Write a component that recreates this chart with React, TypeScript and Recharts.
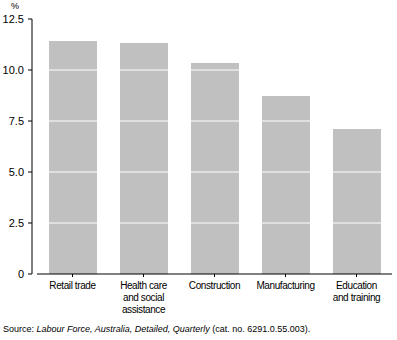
import { BarChart, Bar, XAxis, YAxis, ReferenceLine } from "recharts";

// share of employed persons by industry, %
const industries = [
  "Retail trade",
  "Health care and social assistance",
  "Construction",
  "Manufacturing",
  "Education and training",
];
const shares = [11.42, 11.32, 10.34, 8.73, 7.11];
const yTicks = [0, 2.5, 5, 7.5, 10, 12.5];

const data = industries.map((name, i) => ({ name, value: shares[i] }));

const FONT = "'Liberation Sans', Arial, sans-serif";

// greedy word wrap so long industry names go over a few lines
function wrap(label: string, max = 12) {
  const lines: string[] = [];
  let cur = "";
  for (const w of label.split(" ")) {
    if (cur && (cur + " " + w).length > max) {
      lines.push(cur);
      cur = w;
    } else {
      cur = cur ? cur + " " + w : w;
    }
  }
  if (cur) lines.push(cur);
  return lines;
}

function CategoryTick({ x, y, payload }: any) {
  const lines = wrap(payload.value);
  return (
    <text x={x} y={y} textAnchor="middle" fontFamily={FONT} fontSize={10} letterSpacing={-0.4} fill="#000">
      {lines.map((l, i) => (
        <tspan key={i} x={x} dy={i === 0 ? 10 : 12}>
          {l}
        </tspan>
      ))}
    </text>
  );
}

export default function App() {
  return (
    <div style={{ position: "absolute", left: 0, top: 0, width: 397, height: 340, background: "#fff" }}>
      <BarChart
        width={397}
        height={340}
        data={data}
        margin={{ top: 19, right: 5, bottom: 26, left: 0 }}
      >
        <XAxis
          dataKey="name"
          interval={0}
          height={40}
          axisLine={{ stroke: "#000" }}
          tickLine={{ stroke: "#000" }}
          tickSize={3}
          tick={<CategoryTick />}
        />
        <YAxis
          width={37}
          domain={[0, 12.5]}
          ticks={yTicks}
          interval={0}
          tickFormatter={(v: number) => (v === 0 ? "0" : v.toFixed(1))}
          axisLine={{ stroke: "#000", transform: "translate(-5,0)" }}
          tickLine={{ stroke: "#000", transform: "translate(-5,0)" }}
          tickSize={4}
          tickMargin={9}
          tick={{ fill: "#000", fontSize: 11, fontFamily: FONT }}
        />
        <Bar dataKey="value" fill="#c0c0c0" barSize={48} isAnimationActive={false} />
        {yTicks.slice(1, 5).map((t) => (
          <ReferenceLine key={t} y={t} stroke="#fff" strokeWidth={1} />
        ))}
        <text x={15} y={9} textAnchor="middle" fontFamily={FONT} fontSize={9} fill="#000">
          %
        </text>
        <text x={3} y={332} fontFamily={FONT} fontSize={9} fill="#000">
          <tspan>Source: </tspan>
          <tspan fontStyle="italic">Labour Force, Australia, Detailed, Quarterly</tspan>
          <tspan> (cat. no. 6291.0.55.003).</tspan>
        </text>
      </BarChart>
    </div>
  );
}
